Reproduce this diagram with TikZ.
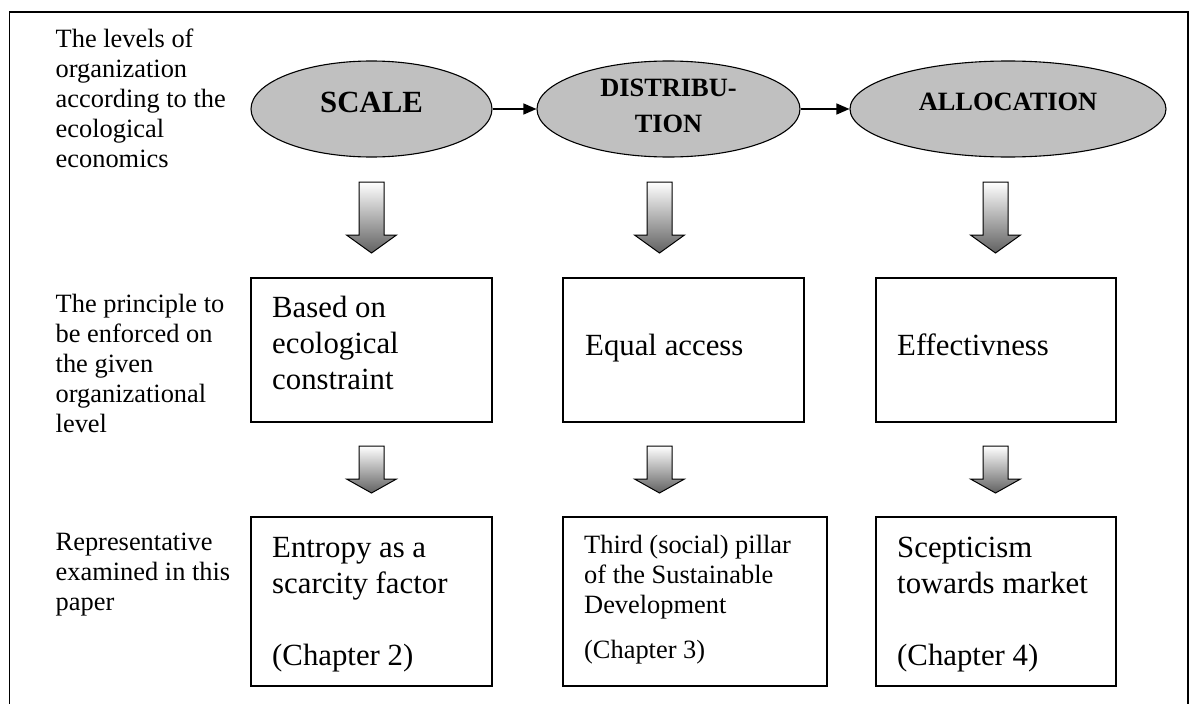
\documentclass[tikz,border=0pt]{standalone}
\usepackage{fontspec}
\setmainfont{Liberation Serif}
\usetikzlibrary{shapes.geometric,arrows.meta}
\definecolor{ellgray}{RGB}{192,192,192}
\newcommand{\dnblock}[5]{% block arrow: x, top, shoulder, tip, style
  \draw[#5] ({#1-12.5},#2) -- ({#1+12.5},#2) -- ({#1+12.5},#3) -- ({#1+25},#3)
    -- (#1,#4) -- ({#1-25},#3) -- ({#1-12.5},#3) -- cycle;}
\begin{document}
\begin{tikzpicture}[x=1pt,y=-1pt,
  outerframe/.style={line width=1.4pt},
  ellip/.style={ellipse, draw, line width=1.1pt, fill=ellgray, inner sep=0pt, minimum height=96pt},
  boxnode/.style={draw, line width=1.3pt, inner sep=0pt},
  sidetxt/.style={anchor=base west, inner sep=0pt, font=\fontsize{26.4}{30}\selectfont},
  boxtxt/.style={anchor=base west, inner sep=0pt, font=\fontsize{30.8}{36}\selectfont},
  smalltxt/.style={anchor=base west, inner sep=0pt, font=\fontsize{26.4}{30}\selectfont},
  elltxt/.style={anchor=base, inner sep=0pt},
  flow/.style={line width=1.3pt, -{Triangle[length=13pt,width=11pt]}},
  blockarr/.style={draw, line width=1pt, top color=white, bottom color=black!62}
]
\useasboundingbox (0,0) rectangle (1195,704);
% outer frame (open at the bottom)
\draw[outerframe] (9.5,704) -- (9.5,12) -- (1188,12) -- (1188,704);

% ellipses
\node[ellip, minimum width=241pt] (e1) at (371.5,109) {};
\node[ellip, minimum width=263pt] (e2) at (668.5,109) {};
\node[ellip, minimum width=316pt] (e3) at (1008,109) {};
\node[elltxt, font=\bfseries\fontsize{30.8}{36}\selectfont] (l1) at (371.5,112) {SCALE};
\node[elltxt, font=\bfseries\fontsize{26.4}{36}\selectfont] (l2) at (668.5,96)
  {\begin{tabular}[t]{@{}c@{}}DISTRIBU-\\TION\end{tabular}};
\node[elltxt, font=\bfseries\fontsize{26.4}{30}\selectfont] (l3) at (1008,110) {ALLOCATION};
\draw[flow] (e1.east) -- (e2.west);
\draw[flow] (e2.east) -- (e3.west);

% boxes
\node[boxnode, minimum width=241pt, minimum height=144pt] (b1) at (371.5,350) {};
\node[boxnode, minimum width=241pt, minimum height=144pt] (b2) at (683.5,350) {};
\node[boxnode, minimum width=240pt, minimum height=144pt] (b3) at (996,350) {};
\node[boxnode, minimum width=241pt, minimum height=169pt] (c1) at (371.5,601.5) {};
\node[boxnode, minimum width=264pt, minimum height=169pt] (c2) at (695,601.5) {};
\node[boxnode, minimum width=240pt, minimum height=169pt] (c3) at (996,601.5) {};

% block arrows
\dnblock{371.5}{182}{235}{253}{blockarr}
\dnblock{659.5}{182}{235}{253}{blockarr}
\dnblock{995.5}{182}{235}{253}{blockarr}
\dnblock{371.5}{446}{479}{493}{blockarr}
\dnblock{659.5}{446}{479}{493}{blockarr}
\dnblock{995.5}{446}{479}{493}{blockarr}

% side texts
\node[sidetxt] (s1) at (55.5,47) {\begin{tabular}[t]{@{}l@{}}The levels of\\organization\\according to the\\ecological\\economics\end{tabular}};
\node[sidetxt] (s2) at (55.5,312) {\begin{tabular}[t]{@{}l@{}}The principle to\\be enforced on\\the given\\organizational\\level\end{tabular}};
\node[sidetxt] (s3) at (55.5,550) {\begin{tabular}[t]{@{}l@{}}Representative\\examined in this\\paper\end{tabular}};

% box texts
\node[boxtxt] (t1) at (272,317) {\begin{tabular}[t]{@{}l@{}}Based on\\ecological\\constraint\end{tabular}};
\node[boxtxt] (t2) at (585,355) {Equal access};
\node[boxtxt] (t3) at (897,355) {Effectivness};
\node[boxtxt] (u1) at (272,557) {\begin{tabular}[t]{@{}l@{}}Entropy as a\\scarcity factor\\ \\(Chapter 2)\end{tabular}};
\node[smalltxt] (u2) at (584,553) {\begin{tabular}[t]{@{}l@{}}Third (social) pillar\\of the Sustainable\\Development\\[15pt](Chapter 3)\end{tabular}};
\node[boxtxt] (u3) at (897,557) {\begin{tabular}[t]{@{}l@{}}Scepticism\\towards market\\ \\(Chapter 4)\end{tabular}};
\end{tikzpicture}
\end{document}
